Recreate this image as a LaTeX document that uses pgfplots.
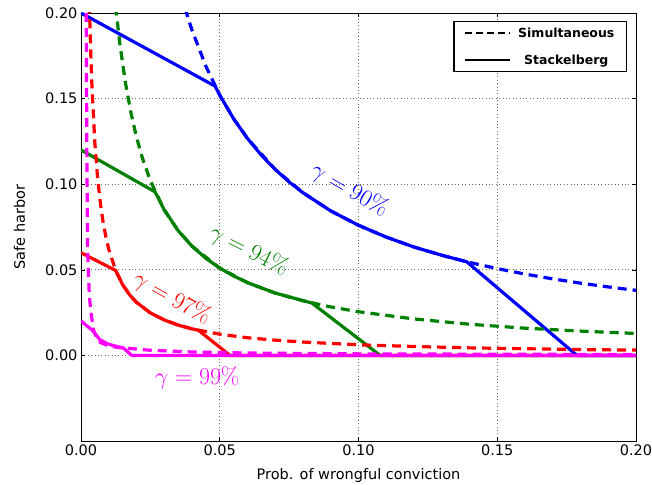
\RequirePackage{fix-cm}
\documentclass[border=0pt]{standalone}
\usepackage[no-math]{fontspec}
\setmainfont{DejaVu Sans}
\usepackage{pgfplots}
\pgfplotsset{compat=1.18}
\definecolor{mplgreen}{rgb}{0,0.5,0}
\definecolor{mplblue}{rgb}{0,0,1}
\definecolor{mplred}{rgb}{1,0,0}
\definecolor{mplmagenta}{rgb}{1,0,1}
\pgfplotsset{
  sim/.style={line width=3.2pt, dash pattern=on 9pt off 6pt},
  stk/.style={line width=3.2pt, line join=round},
}
\begin{document}
\begin{tikzpicture}
\begin{axis}[
  scale only axis, width=555pt, height=428pt,
  xmin=0, xmax=0.2, ymin=-0.05, ymax=0.2,
  xtick={0,0.05,0.1,0.15,0.2}, ytick={0,0.05,0.1,0.15,0.2},
  scaled ticks=false,
  tick align=inside, major tick length=4pt,
  tick style={black, line width=0.6pt},
  grid=major, major grid style={dash pattern=on 0.8pt off 2.6pt, black!60, line width=0.7pt},
  axis line style={black, line width=0.9pt},
  /pgf/number format/assume math mode=true,
  xticklabel style={/pgf/number format/fixed, /pgf/number format/fixed zerofill, /pgf/number format/precision=2},
  yticklabel style={/pgf/number format/fixed, /pgf/number format/fixed zerofill, /pgf/number format/precision=2},
  tick label style={font=\fontsize{14.5}{17}\selectfont},
  xlabel={Prob. of wrongful conviction}, ylabel={Safe harbor},
  every axis x label/.style={at={(axis description cs:0.5,0)}, anchor=base, yshift=-38pt, font=\fontsize{14.5}{17}\selectfont},
  every axis y label/.style={at={(axis description cs:0,0.5)}, xshift=-56pt, rotate=90, anchor=base, font=\fontsize{14.5}{17}\selectfont},
  legend style={at={(rel axis cs:1,1)}, anchor=north east, xshift=-9pt, yshift=-8pt,
    draw=black, line width=1.2pt, fill=white,
    font=\bfseries\fontsize{12.5}{15}\selectfont, cells={anchor=center},
    inner xsep=10pt, inner ysep=4pt, row sep=12pt, column sep=5pt},
  legend image code/.code={\draw[#1] (0pt,0pt) -- (45pt,0pt);},
]
\coordinate (sw) at (rel axis cs:0,0);
\coordinate (ne) at (rel axis cs:1,1);
\addlegendimage{black, line width=2.2pt, dash pattern=on 6.6pt off 4.4pt}
\addlegendentry{Simultaneous}
\addlegendimage{black, line width=2.2pt}
\addlegendentry{Stackelberg}

% gamma = 90%
\addplot[sim, mplblue, forget plot] coordinates {(0.036,0.2111)(0.038,0.2)(0.04,0.19)(0.045,0.1689)(0.05,0.152)(0.055,0.1382)(0.06,0.1267)(0.07,0.1086)(0.08,0.095)(0.09,0.0844)(0.10,0.076)(0.11,0.0691)(0.12,0.0633)(0.13,0.0585)(0.14,0.0543)(0.15,0.0507)(0.16,0.0475)(0.17,0.0447)(0.18,0.0422)(0.19,0.04)(0.20,0.038)};
\addplot[stk, mplblue, forget plot] coordinates {(0,0.2)(0.0483,0.1573)(0.05,0.152)(0.055,0.1382)(0.06,0.1267)(0.065,0.1169)(0.07,0.1086)(0.075,0.1013)(0.08,0.095)(0.09,0.0844)(0.10,0.076)(0.11,0.0691)(0.12,0.0633)(0.13,0.0585)(0.139,0.0547)(0.1787,0)(0.2,0)};
% gamma = 94%
\addplot[sim, mplgreen, forget plot] coordinates {(0.012,0.2125)(0.01275,0.2)(0.014,0.1821)(0.016,0.1594)(0.018,0.1417)(0.02,0.1275)(0.022,0.1159)(0.025,0.102)(0.03,0.085)(0.035,0.0729)(0.04,0.0638)(0.05,0.051)(0.06,0.0425)(0.07,0.0364)(0.08,0.0319)(0.09,0.0283)(0.10,0.0255)(0.12,0.0213)(0.14,0.0182)(0.16,0.0159)(0.18,0.0142)(0.20,0.0128)};
\addplot[stk, mplgreen, forget plot] coordinates {(0,0.12)(0.0267,0.0955)(0.03,0.085)(0.035,0.0729)(0.04,0.0638)(0.045,0.0567)(0.05,0.051)(0.055,0.0464)(0.06,0.0425)(0.07,0.0364)(0.0832,0.0306)(0.1078,0)(0.2,0)};
% gamma = 97%
\addplot[sim, mplred, forget plot] coordinates {(0.0029,0.2138)(0.0031,0.2)(0.0035,0.1771)(0.004,0.155)(0.005,0.124)(0.006,0.1033)(0.007,0.0886)(0.008,0.0775)(0.009,0.0689)(0.010,0.062)(0.0125,0.0496)(0.015,0.0413)(0.0175,0.0354)(0.02,0.031)(0.025,0.0248)(0.03,0.0207)(0.035,0.0177)(0.04,0.0155)(0.05,0.0124)(0.06,0.0103)(0.07,0.0089)(0.08,0.0078)(0.10,0.0062)(0.12,0.0052)(0.14,0.0044)(0.16,0.0039)(0.18,0.0034)(0.2,0.0031)};
\addplot[stk, mplred, forget plot] coordinates {(0,0.06)(0.0125,0.0496)(0.015,0.0413)(0.0175,0.0354)(0.02,0.031)(0.025,0.0248)(0.03,0.0207)(0.035,0.0177)(0.04,0.0155)(0.0423,0.0147)(0.0537,0)(0.2,0)};
% gamma = 99%
\addplot[sim, mplmagenta, forget plot] coordinates {(0.0019,0.2)(0.0021,0.12)(0.0024,0.06)(0.003,0.035)(0.0036,0.025)(0.0045,0.015)(0.0054,0.011)(0.007,0.0075)(0.01,0.0055)(0.014,0.0045)(0.018,0.004)(0.025,0.003)(0.04,0.002)(0.06,0.0014)(0.1,0.0009)(0.2,0.0005)};
\addplot[stk, mplmagenta, forget plot] coordinates {(0,0.0203)(0.0015,0.018)(0.0039,0.015)(0.0068,0.0092)(0.0095,0.0068)(0.0117,0.0057)(0.0153,0.0043)(0.0183,0)(0.2,0)};

\node[mplblue, rotate=-30, font=\fontsize{24}{28}\selectfont] at (axis cs:0.0968,0.0964) {$\gamma = 90\%$};
\node[mplgreen, rotate=-27, font=\fontsize{24}{28}\selectfont] at (axis cs:0.0605,0.0613) {$\gamma = 94\%$};
\node[mplred, rotate=-29, font=\fontsize{24}{28}\selectfont] at (axis cs:0.0328,0.0332) {$\gamma = 97\%$};
\node[mplmagenta, font=\fontsize{24}{28}\selectfont] at (axis cs:0.0419,-0.013) {$\gamma = 99\%$};
\end{axis}
\pgfresetboundingbox
\path[use as bounding box] ([shift={(-81pt,-43pt)}]sw) rectangle ([shift={(16pt,13pt)}]ne);
\end{tikzpicture}
\end{document}
